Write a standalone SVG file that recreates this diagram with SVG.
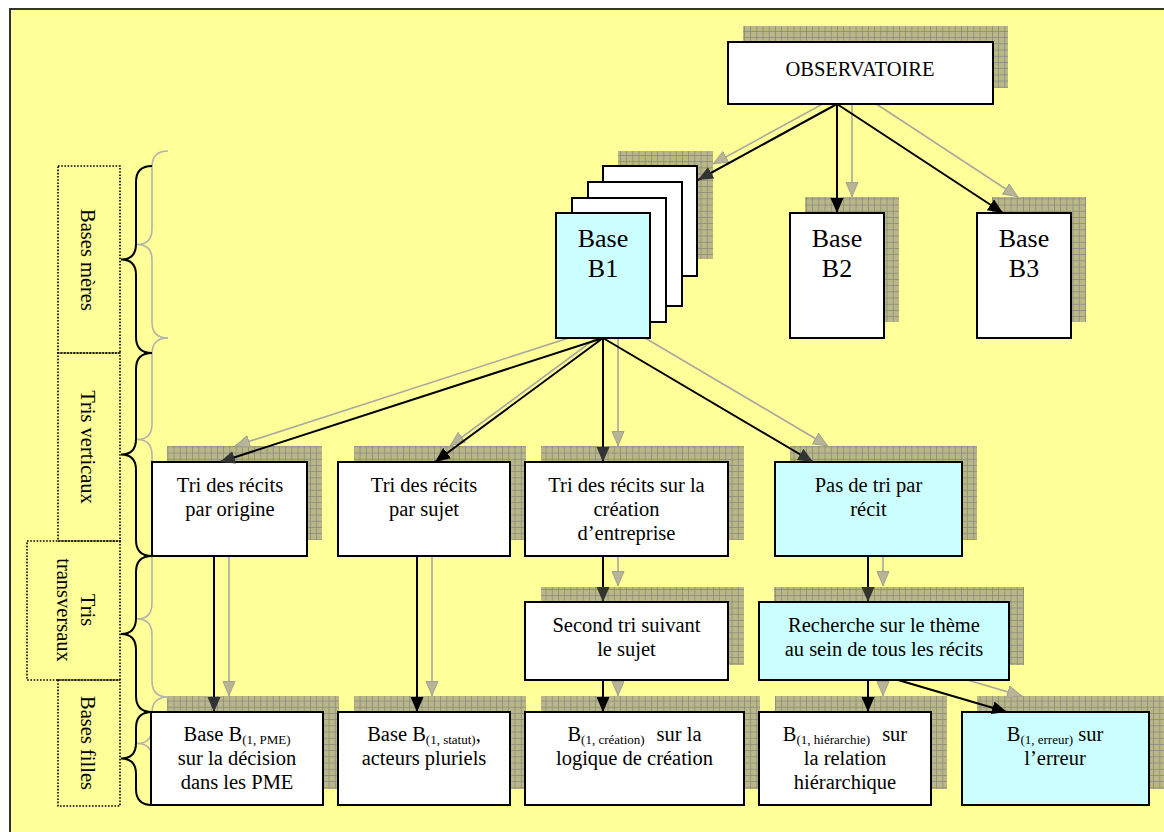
<svg xmlns="http://www.w3.org/2000/svg" width="1164" height="832" viewBox="0 0 1164 832" font-family="'Liberation Serif', 'Times New Roman', Times, serif">
<style>
.t{font-size:20.5px;fill:#000;text-anchor:middle}
.big{font-size:26px}
.sub{font-size:13px}
.box{stroke:#000;stroke-width:2}
.w{fill:#fff}
.c{fill:#ccffff}
.sh{fill:url(#grid)}
.lbl{fill:none;stroke:#000;stroke-width:1.6;stroke-dasharray:1.6 1.6}
.brace{fill:none;stroke:#000;stroke-width:2}
.gbrace{fill:none;stroke:#b4b4ac;stroke-width:1.6}
.blk{stroke:#000;stroke-width:2;fill:none;marker-end:url(#ab)}
.dk{stroke:#000;stroke-width:2;fill:none;marker-end:url(#ad)}
.gry{stroke:#a8a8a0;stroke-width:1.6;fill:none;marker-end:url(#ag)}
</style>
<defs>
<pattern id="grid" patternUnits="userSpaceOnUse" width="6.2" height="6.2">
<rect width="6.2" height="6.2" fill="#bab787"/>
<path d="M0,0.4H6.2M0.4,0V6.2" stroke="#878781" stroke-width="0.8"/>
</pattern>
<marker id="ab" markerUnits="userSpaceOnUse" markerWidth="16" markerHeight="14" refX="15" refY="6.5" orient="auto">
<path d="M0,0L15,6.5L0,13z" fill="#000"/>
</marker>
<marker id="ad" markerUnits="userSpaceOnUse" markerWidth="16" markerHeight="14" refX="15" refY="6.5" orient="auto">
<path d="M0,0L15,6.5L0,13z" fill="#333"/>
</marker>
<marker id="ag" markerUnits="userSpaceOnUse" markerWidth="16" markerHeight="14" refX="15" refY="6.5" orient="auto">
<path d="M0.5,0.5L14.5,6.5L0.5,12.5z" fill="#b8b496" stroke="#a0a098" stroke-width="1"/>
</marker>
</defs>

<rect x="10" y="9" width="1170" height="840" fill="#ffff99" stroke="#333" stroke-width="2"/>

<g id="shadows">
<rect class="sh" x="743" y="26" width="265" height="62"/>
<rect class="sh" x="618" y="151" width="95" height="108"/>
<rect class="sh" x="805" y="197" width="94" height="125"/>
<rect class="sh" x="992" y="197" width="94" height="125"/>
<rect class="sh" x="167" y="446" width="155" height="94"/>
<rect class="sh" x="354" y="446" width="172" height="94"/>
<rect class="sh" x="541" y="446" width="203" height="94"/>
<rect class="sh" x="790" y="446" width="187" height="94"/>
<rect class="sh" x="541" y="587" width="203" height="78"/>
<rect class="sh" x="774" y="587" width="250" height="78"/>
<rect class="sh" x="167" y="696" width="172" height="93"/>
<rect class="sh" x="354" y="696" width="172" height="93"/>
<rect class="sh" x="541" y="696" width="219" height="93"/>
<rect class="sh" x="775" y="696" width="172" height="93"/>
<rect class="sh" x="977" y="696" width="187" height="93"/>
</g>

<g id="braces-shadow" transform="translate(16,-15)">
<path class="gbrace" d="M152,166Q136,166 136,182L136,244Q136,259.5 121,259.5Q136,259.5 136,275L136,337Q136,353 152,353"/>
<path class="gbrace" d="M152,353Q136,353 136,369L136,439Q136,454.5 121,454.5Q136,454.5 136,470L136,540Q136,556 152,556"/>
<path class="gbrace" d="M152,556Q136,556 136,572L136,618Q136,634 121,634Q136,634 136,650L136,696Q136,712 152,712"/>
<path class="gbrace" d="M152,712Q136,712 136,728L136,743Q136,758.5 121,758.5Q136,758.5 136,774L136,789Q136,805 152,805"/>
</g>

<g id="connectors">
<g id="connectors-shadow" transform="translate(15,-16)">
<path class="gry" d="M837,104L698,180"/>
<path class="gry" d="M837,104L837,213"/>
<path class="gry" d="M837,104L1003,213"/>
<path class="gry" d="M603,338L220,462"/>
<path class="gry" d="M603,338L435,462"/>
<path class="gry" d="M603,338L603,462"/>
<path class="gry" d="M603,338L813,462"/>
<path class="gry" d="M214,556L214,712"/>
<path class="gry" d="M417,556L417,712"/>
<path class="gry" d="M603,556L603,602"/>
<path class="gry" d="M603,680L603,712"/>
<path class="gry" d="M868,556L868,602"/>
<path class="gry" d="M868,680L868,712"/>
<path class="gry" d="M898,680L1007,712"/>
</g>
</g>

<g id="labels">
<rect class="lbl" x="58" y="166" width="62" height="187"/>
<rect class="lbl" x="58" y="353" width="62" height="188"/>
<rect class="lbl" x="27" y="541" width="93" height="139"/>
<rect class="lbl" x="58" y="680" width="62" height="126"/>
<text class="t" transform="translate(88,260) rotate(90)" x="0" y="7">Bases mères</text>
<text class="t" transform="translate(88,447) rotate(90)" x="0" y="7">Tris verticaux</text>
<text class="t" transform="translate(88,610) rotate(90)" x="0" y="7">Tris</text>
<text class="t" transform="translate(64,610) rotate(90)" x="0" y="7">transversaux</text>
<text class="t" transform="translate(88,743) rotate(90)" x="0" y="7">Bases filles</text>
</g>

<g id="braces">
<path class="brace" d="M152,166Q136,166 136,182L136,244Q136,259.5 121,259.5Q136,259.5 136,275L136,337Q136,353 152,353"/>
<path class="brace" d="M152,353Q136,353 136,369L136,439Q136,454.5 121,454.5Q136,454.5 136,470L136,540Q136,556 152,556"/>
<path class="brace" d="M152,556Q136,556 136,572L136,618Q136,634 121,634Q136,634 136,650L136,696Q136,712 152,712"/>
<path class="brace" d="M152,712Q136,712 136,728L136,743Q136,758.5 121,758.5Q136,758.5 136,774L136,789Q136,805 152,805"/>
</g>

<g id="observatoire">
<rect class="box w" x="728" y="42" width="265" height="62"/>
<text class="t" x="860" y="76">OBSERVATOIRE</text>
</g>

<g id="base-b1">
<rect class="box w" x="603" y="166" width="94" height="110"/>
<rect class="box w" x="588" y="182" width="94" height="124"/>
<rect class="box w" x="572" y="198" width="94" height="124"/>
<rect class="box c" x="556" y="213" width="94" height="125"/>
<text class="t big" x="603" y="247">Base</text>
<text class="t big" x="603" y="277">B1</text>
</g>

<g id="base-b2">
<rect class="box w" x="790" y="213" width="94" height="125"/>
<text class="t big" x="837" y="247">Base</text>
<text class="t big" x="837" y="277">B2</text>
</g>

<g id="base-b3">
<rect class="box w" x="977" y="213" width="94" height="125"/>
<text class="t big" x="1024" y="247">Base</text>
<text class="t big" x="1024" y="277">B3</text>
</g>

<g id="tri-origine">
<rect class="box w" x="152" y="462" width="155" height="94"/>
<text class="t" x="230" y="492">Tri des récits</text>
<text class="t" x="230" y="516">par origine</text>
</g>

<g id="tri-sujet">
<rect class="box w" x="338" y="462" width="172" height="94"/>
<text class="t" x="424" y="492">Tri des récits</text>
<text class="t" x="424" y="516">par sujet</text>
</g>

<g id="tri-creation">
<rect class="box w" x="525" y="462" width="203" height="94"/>
<text class="t" x="626.5" y="492">Tri des récits sur la</text>
<text class="t" x="626.5" y="516">création</text>
<text class="t" x="626.5" y="540">d’entreprise</text>
</g>

<g id="pas-de-tri">
<rect class="box c" x="775" y="462" width="187" height="94"/>
<text class="t" x="868.5" y="492">Pas de tri par</text>
<text class="t" x="868.5" y="516">récit</text>
</g>

<g id="second-tri">
<rect class="box w" x="525" y="602" width="203" height="78"/>
<text class="t" x="626.5" y="632">Second tri suivant</text>
<text class="t" x="626.5" y="656">le sujet</text>
</g>

<g id="recherche">
<rect class="box c" x="759" y="602" width="250" height="78"/>
<text class="t" x="884" y="632">Recherche sur le thème</text>
<text class="t" x="884" y="656">au sein de tous les récits</text>
</g>

<g id="base-pme">
<rect class="box w" x="151" y="712" width="172" height="93"/>
<text class="t" x="237" y="741">Base B<tspan class="sub" dy="3">(1, PME)</tspan></text>
<text class="t" x="237" y="765">sur la décision</text>
<text class="t" x="237" y="789">dans les PME</text>
</g>

<g id="base-statut">
<rect class="box w" x="338" y="712" width="172" height="93"/>
<text class="t" x="424" y="741">Base B<tspan class="sub" dy="3">(1, statut)</tspan><tspan dy="-3">,</tspan></text>
<text class="t" x="424" y="765">acteurs pluriels</text>
</g>

<g id="b-creation">
<rect class="box w" x="525" y="712" width="219" height="93"/>
<text class="t" x="634.5" y="741">B<tspan class="sub" dy="3">(1, création)</tspan><tspan dy="-3" dx="12">sur la</tspan></text>
<text class="t" x="634.5" y="765">logique de création</text>
</g>

<g id="b-hierarchie">
<rect class="box w" x="759" y="712" width="172" height="93"/>
<text class="t" x="845" y="741">B<tspan class="sub" dy="3">(1, hiérarchie)</tspan><tspan dy="-3" dx="12">sur</tspan></text>
<text class="t" x="845" y="765">la relation</text>
<text class="t" x="845" y="789">hiérarchique</text>
</g>

<g id="b-erreur">
<rect class="box c" x="962" y="712" width="187" height="93"/>
<text class="t" x="1055" y="741">B<tspan class="sub" dy="3">(1, erreur)</tspan><tspan dy="-3"> sur</tspan></text>
<text class="t" x="1055" y="765">l’erreur</text>
</g>

<g id="connectors-main">
<path class="dk" d="M837,104L698,180"/>
<path class="blk" d="M837,104L837,213"/>
<path class="blk" d="M837,104L1003,213"/>
<path class="dk" d="M603,338L220,462"/>
<path class="blk" d="M603,338L435,462"/>
<path class="dk" d="M603,338L603,462"/>
<path class="dk" d="M603,338L813,462"/>
<path class="dk" d="M214,556L214,712"/>
<path class="blk" d="M417,556L417,712"/>
<path class="dk" d="M603,556L603,602"/>
<path class="blk" d="M603,680L603,712"/>
<path class="dk" d="M868,556L868,602"/>
<path class="blk" d="M868,680L868,712"/>
<path class="blk" d="M898,680L1007,712"/>
</g>
</svg>
